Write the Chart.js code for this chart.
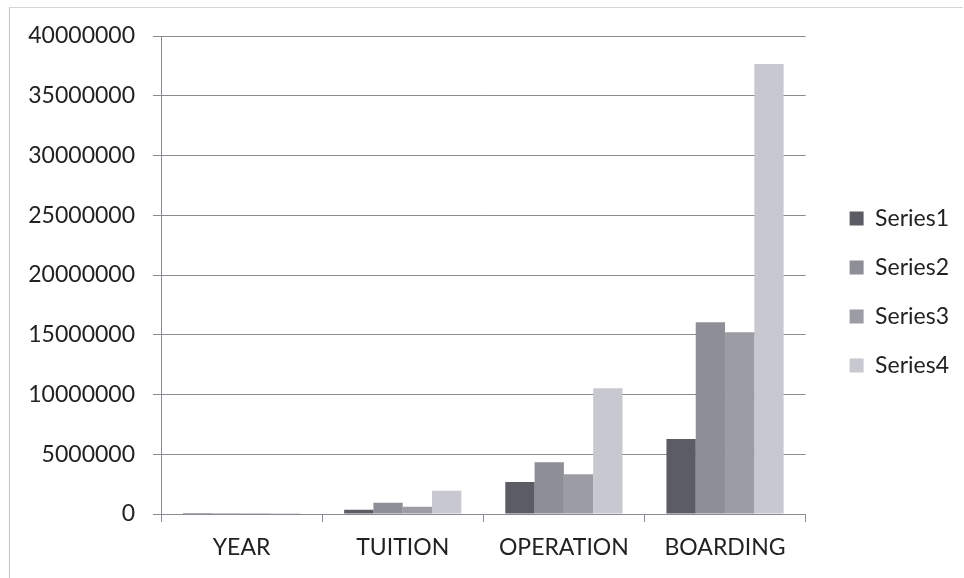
<!DOCTYPE html>
<html>
<head>
<meta charset="utf-8">
<title>Costs by category</title>
<script src="https://cdn.jsdelivr.net/npm/chart.js@4/dist/chart.umd.min.js"></script>
<style>
    html, body { margin: 0; padding: 0; background: #fff; }
    #wrap {
        position: relative;
        width: 964px;
        height: 578px;
    }
    #frame {
        position: absolute;
        left: 9px;
        top: 7px;
        width: 954px;
        height: 580px;
        border-left: 1px solid #c4c4cc;
        border-top: 1px solid #d4d4dc;
        box-sizing: border-box;
        pointer-events: none;
    }
</style>
</head>
<body>
<div id="wrap">
    <canvas id="costChart" width="964" height="578"></canvas>
    <div id="frame"></div>
</div>
<script>
const categories = ["YEAR", "TUITION", "OPERATION", "BOARDING"];

const series1 = [2010, 360000, 2680000, 6280000];
const series2 = [2011, 950000, 4330000, 16040000];
const series3 = [2012, 610000, 3320000, 15200000];
const series4 = [2013, 1950000, 10520000, 37660000];

const seriesNames = ["Series1", "Series2", "Series3", "Series4"];
const seriesColors = ["#5c5c64", "#8e8e96", "#9c9ca4", "#c8c8d0"];

const yMax = 40000000;
const yStep = 5000000;

const font = "Lato, 'Open Sans', sans-serif";

// lift the legend a little so it sits centred on the plot, not the canvas
const legendNudge = {
    id: "legendNudge",
    afterLayout(chart) {
        chart.legend.top -= 10;
        chart.legend.bottom -= 10;
    }
};

const ctx = document.getElementById("costChart").getContext("2d");

const chart = new Chart(ctx, {
    type: "bar",
    data: {
        labels: categories,
        datasets: [series1, series2, series3, series4].map((values, i) => ({
            label: seriesNames[i],
            data: values,
            backgroundColor: seriesColors[i],
            borderWidth: 0,
            barPercentage: 1,
            categoryPercentage: 4 / 5.5
        }))
    },
    plugins: [legendNudge],
    options: {
        responsive: false,
        animation: false,
        layout: {
            padding: { left: 10, top: 36, right: 5, bottom: 10 }
        },
        plugins: {
            legend: {
                position: "right",
                labels: {
                    boxWidth: 14,
                    boxHeight: 14,
                    padding: 26,
                    color: "#222",
                    font: { family: font, size: 23 }
                }
            },
            tooltip: { enabled: false }
        },
        scales: {
            x: {
                grid: {
                    offset: true,
                    drawOnChartArea: false,
                    drawTicks: true,
                    tickLength: 8,
                    color: "#8a8a92"
                },
                border: { color: "#8a8a92" },
                ticks: {
                    color: "#222",
                    padding: 12,
                    font: { family: font, size: 23 }
                },
                afterFit: function (scale) {
                    scale.height = 54;
                }
            },
            y: {
                min: 0,
                max: yMax,
                grid: {
                    color: "#8a8a92",
                    tickLength: 8
                },
                border: { color: "#8a8a92" },
                ticks: {
                    stepSize: yStep,
                    color: "#222",
                    padding: 18,
                    font: { family: font, size: 23 },
                    callback: function (value) {
                        return String(value);
                    }
                },
                afterFit: function (scale) {
                    scale.width = 151;
                }
            },
            // empty axis on the right, only keeps a gap before the legend
            gap: {
                position: "right",
                grid: { display: false },
                border: { display: false },
                ticks: { display: false },
                afterFit: function (scale) {
                    scale.width = 18;
                }
            }
        }
    }
});
</script>
</body>
</html>
